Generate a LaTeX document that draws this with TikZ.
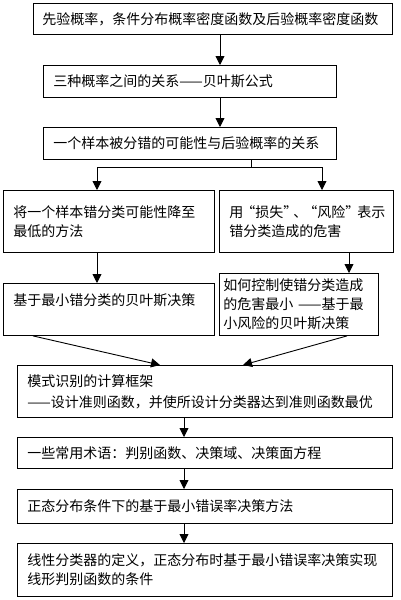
\documentclass[tikz,border=0pt]{standalone}
\usepackage{fontspec}
\newfontfamily\cjk{Noto Sans CJK SC}
\usetikzlibrary{arrows.meta}

\begin{document}
\begin{tikzpicture}[x=1pt,y=-1pt,
		box/.style={draw,line width=.9pt,anchor=north west,align=left,inner xsep=10pt,inner ysep=4pt,
			font=\cjk\fontsize{14pt}{19pt}\selectfont},
		arr/.style={line width=.9pt,-{Triangle[width=9pt,length=9pt]}}]
			\useasboundingbox (0,0) rectangle (400,600);
			\node[box,inner xsep=9pt,text width=341pt,minimum height=31pt] (b1) at (33,3) {先验概率，条件分布概率密度函数及后验概率密度函数};
			\node[box,text width=273pt,minimum height=32pt] (b2) at (43,65) {三种概率之间的关系——贝叶斯公式};
			\node[box,text width=273pt,minimum height=32pt] (b3) at (43,127) {一个样本被分错的可能性与后验概率的关系};
			\node[box,text width=191pt,minimum height=62pt] (b4) at (3,190) {将一个样本错分类可能性降至\\最低的方法};
			\node[box,text width=154pt,minimum height=62pt] (b5) at (219,190) {用\kern-2pt“损失”\kern-4pt、\kern-4pt“风险”\kern-2pt表示\\错分类造成的危害};
			\node[box,text width=191pt,minimum height=52pt,text height=18pt,text depth=26pt] (b6) at (3,283) {基于最小错分类的贝叶斯决策};
			\node[box,inner xsep=4pt,text width=151pt,minimum height=62pt] (b7) at (219,273) {如何控制使错分类造成\\的危害最小 ——基于最\\小风险的贝叶斯决策};
			\node[box,text width=355pt,minimum height=52pt] (b8) at (17,365) {模式识别的计算框架\\[2pt]——设计准则函数，并使所设计分类器达到准则函数最优};
			\node[box,text width=355pt,minimum height=31pt] (b9) at (17,437) {一些常用术语：判别函数、决策域、决策面方程};
			\node[box,text width=355pt,minimum height=34pt] (b10) at (17,489) {正态分布条件下的基于最小错误率决策方法};
			\node[box,text width=355pt,minimum height=53pt] (b11) at (17,543) {线性分类器的定义，正态分布时基于最小错误率决策实现\\线形判别函数的条件};
			% arrow columns
			\coordinate (c1) at (220,0);
			\coordinate (c2) at (97,0);
			\coordinate (c3) at (349,0);
			\coordinate (c4) at (184,0);
			\coordinate (split) at (251,167);
			\coordinate (lft) at (97,167);
			\coordinate (rgt) at (322,167);
			\draw[arr] (b1.south -| c1) -- (b2.north -| c1);
			\draw[arr] (b2.south -| c1) -- (b3.north -| c1);
			\draw[line width=.9pt] (b3.south -| split) -- (split);
			\draw[arr] (split) -- (lft) -- (lft |- b4.north);
			\draw[arr] (split) -- (rgt) -- (rgt |- b5.north);
			\draw[arr] (b4.south -| c2) -- (b6.north -| c2);
			\draw[arr] (b5.south -| c3) -- (b7.north -| c3);
			\draw[arr] ([xshift=30pt]b6.south west) -- ([xshift=143pt]b8.north west);
			\draw[arr] ([xshift=128pt]b7.south west) -- ([xshift=226pt]b8.north west);
			\draw[arr] (b8.south -| c4) -- (b9.north -| c4);
			\draw[arr] (b9.south -| c4) -- (b10.north -| c4);
			\draw[arr] (b10.south -| c4) -- (b11.north -| c4);
		\end{tikzpicture}
\end{document}
